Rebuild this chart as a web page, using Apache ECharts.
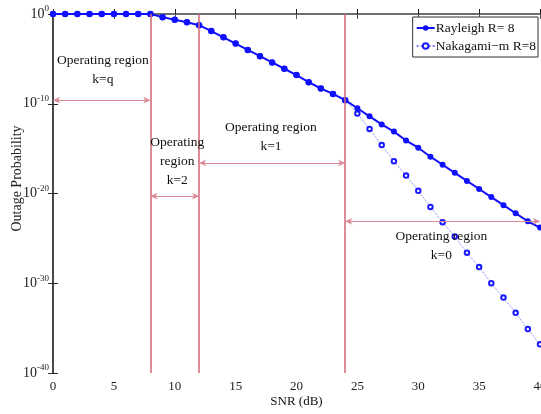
<!DOCTYPE html>
<html>
<head>
<meta charset="utf-8">
<script src="https://cdn.jsdelivr.net/npm/echarts@6/dist/echarts.min.js"></script>
<style>html,body{margin:0;padding:0;background:#fff;}#c{width:541px;height:414px;}</style>
</head>
<body>
<div id="c"></div>
<script>
// SNR (dB) sample points
var snr = [0,1,2,3,4,5,6,7,8,9,10,11,12,13,14,15,16,17,18,19,20,21,22,23,24,25,26,27,28,29,30,31,32,33,34,35,36,37,38,39,40];
// log10 of outage probability
var rayleighLog10 = [0,0,0,0,0,0,0,0,0,-0.35,-0.65,-0.93,-1.25,-1.9,-2.6,-3.3,-4.0,-4.7,-5.4,-6.1,-6.8,-7.6,-8.3,-8.9,-9.6,-10.5,-11.4,-12.3,-13.1,-14.1,-14.9,-15.9,-16.8,-17.7,-18.6,-19.5,-20.4,-21.3,-22.2,-23.1,-23.8];
var nakagamiLog10 = [0,0,0,0,0,0,0,0,0,-0.35,-0.65,-0.93,-1.25,-1.9,-2.6,-3.3,-4.0,-4.7,-5.4,-6.1,-6.8,-7.6,-8.3,-8.9,-9.6,-11.1,-12.8,-14.6,-16.4,-18.0,-19.7,-21.5,-23.2,-24.8,-26.6,-28.2,-30.0,-31.6,-33.3,-35.1,-36.8];
// region boundaries (dB)
var boundaries = [8, 12, 24];
// double arrows: [x start, x end, log10 level]
var arrows = [[0, 8, -9.6], [8, 12, -20.3], [12, 24, -16.6], [24, 40, -23.1]];
// region captions: [x, log10 level, text]
var captions = [
  [4.1, -6.2, 'Operating region\nk=q'],
  [10.2, -16.4, 'Operating\nregion\nk=2'],
  [17.9, -13.7, 'Operating region\nk=1'],
  [31.9, -25.9, 'Operating region\nk=0']
];
var xTicks = {min: 0, max: 40, interval: 5};
var yTicks = {min: -40, max: 0, interval: 10};

var serif = '"Liberation Serif", "DejaVu Serif", Times, serif';
function pairs(xs, ys){ return xs.map(function(x,i){ return [x, ys[i]]; }); }

var chart = echarts.init(document.getElementById('c'));
chart.setOption({
  animation: false,
  backgroundColor: '#fff',
  grid: {left: 53, right: 1, top: 14, bottom: 41, containLabel: false, outerBoundsMode: 'none'},
  legend: {
    right: 3, top: 17,
    orient: 'vertical',
    backgroundColor: '#fff',
    borderColor: '#333', borderWidth: 1,
    padding: [4, 2, 4, 3],
    itemGap: 4, itemWidth: 18, itemHeight: 7,
    textStyle: {fontFamily: serif, fontSize: 13.5, color: '#111', padding: [0,0,0,-4]},
    data: ['Rayleigh R= 8', 'Nakagami\u2212m R=8']
  },
  xAxis: [{
    type: 'value', min: xTicks.min, max: xTicks.max, interval: xTicks.interval,
    name: 'SNR (dB)', nameLocation: 'middle', nameGap: 22, nameMoveOverlap: false,
    nameTextStyle: {fontFamily: serif, fontSize: 13, color: '#111'},
    axisLine: {lineStyle: {color: '#222', width: 1.5}},
    axisTick: {inside: true, length: 5, lineStyle: {color: '#222'}},
    axisLabel: {fontFamily: serif, fontSize: 13, color: '#222', margin: 7},
    splitLine: {show: false}
  }, {
    type: 'value', position: 'top', min: xTicks.min, max: xTicks.max, interval: xTicks.interval,
    axisLine: {lineStyle: {color: '#777', width: 1.5}},
    axisTick: {inside: true, length: 5, lineStyle: {color: '#555'}},
    axisLabel: {show: false}, splitLine: {show: false}
  }],
  yAxis: [{
    type: 'value', min: yTicks.min, max: yTicks.max, interval: yTicks.interval,
    name: 'Outage Probability', nameLocation: 'middle', nameGap: 29, nameMoveOverlap: false,
    nameTextStyle: {fontFamily: serif, fontSize: 14, color: '#222', padding: [0,0,0,30]},
    axisLine: {lineStyle: {color: '#222', width: 1.5}},
    axisTick: {inside: true, length: 5, lineStyle: {color: '#222'}},
    axisLabel: {
      margin: 4,
      formatter: function(v){ return '{b|10}{s|' + v + '}'; },
      rich: {
        b: {fontFamily: serif, fontSize: 14, color: '#222'},
        s: {fontFamily: serif, fontSize: 9, color: '#222', padding: [0,0,10,0]}
      }
    },
    splitLine: {show: false}
  }, {
    type: 'value', position: 'right', min: yTicks.min, max: yTicks.max, interval: yTicks.interval,
    axisLine: {lineStyle: {color: '#444', width: 1.5}},
    axisTick: {inside: true, length: 5, lineStyle: {color: '#333'}},
    axisLabel: {show: false}, splitLine: {show: false}
  }],
  series: [
    {
      name: 'regions', type: 'line', data: [], z: 1, silent: true,
      markLine: {
        silent: true, animation: false,
        label: {show: false},
        symbol: ['none', 'none'],
        lineStyle: {color: '#d4707f', width: 1.6, type: 'solid'},
        data: boundaries.map(function(b){ return {xAxis: b}; })
      }
    },
    {
      name: 'arrows', type: 'line', data: [], z: 1, silent: true,
      markLine: {
        silent: true, animation: false,
        label: {show: false},
        symbol: ['arrow', 'arrow'], symbolSize: [5, 7],
        lineStyle: {color: '#d88a97', width: 1, type: 'solid'},
        data: arrows.map(function(a){ return [{coord: [a[0], a[2]]}, {coord: [a[1], a[2]]}]; })
      },
      markPoint: {
        silent: true, animation: false,
        symbol: 'rect', symbolSize: 1,
        itemStyle: {color: 'rgba(0,0,0,0)'},
        label: {show: true, position: 'inside', fontFamily: serif, fontSize: 13.5, lineHeight: 19, color: '#111', align: 'center', verticalAlign: 'middle'},
        data: captions.map(function(c){ return {coord: [c[0], c[1]], label: {formatter: c[2]}}; })
      }
    },
    {
      name: 'Nakagami\u2212m R=8', type: 'line', z: 3,
      data: pairs(snr, nakagamiLog10),
      symbol: 'emptyCircle', symbolSize: 4.5,
      lineStyle: {color: '#7a7aff', width: 1, type: 'dotted'},
      itemStyle: {color: '#1a1aff', borderWidth: 1.5}
    },
    {
      name: 'Rayleigh R= 8', type: 'line', z: 4,
      data: pairs(snr, rayleighLog10),
      symbol: 'circle', symbolSize: 6,
      lineStyle: {color: '#1010ff', width: 2},
      itemStyle: {color: '#1010ff'}
    }
  ]
});
</script>
</body>
</html>
